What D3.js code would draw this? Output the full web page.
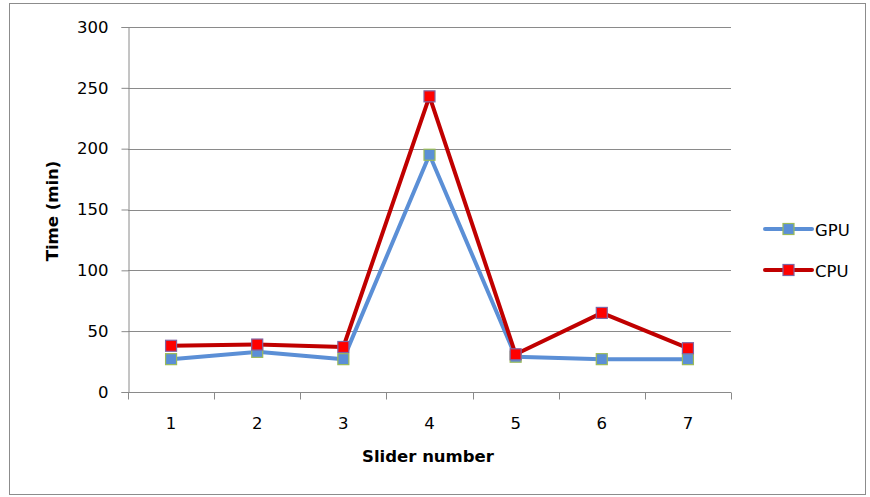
<!DOCTYPE html>
<html>
<head>
<meta charset="utf-8">
<script src="https://cdn.jsdelivr.net/npm/d3@7"></script>
<style>
  html, body { margin: 0; padding: 0; background: #fff; }
  svg { display: block; }
  text { font-family: "DejaVu Sans", Verdana, sans-serif; fill: #000; }
</style>
</head>
<body>
<svg id="chart" width="870" height="497"></svg>
<script>
// Timing data per slider
const sliders = ["1", "2", "3", "4", "5", "6", "7"];
const gpuTimes = [27, 33, 27, 195, 29, 27, 27];
const cpuTimes = [38, 39, 37, 243, 31, 65, 36];
const yTicks = [0, 50, 100, 150, 200, 250, 300];

const series = [
  { name: "GPU", values: gpuTimes, line: "#5B8FD6", fill: "#5B8FD6", edge: "#9BBB59" },
  { name: "CPU", values: cpuTimes, line: "#C00000", fill: "#FF0000", edge: "#8064A2" }
];

const FONT = "'DejaVu Sans', Verdana, sans-serif";
const svg = d3.select("#chart");
const plot = { left: 128, right: 731, top: 27, bottom: 392 };

// Outer chart frame
svg.append("rect")
  .attr("x", 9.5).attr("y", 3.5)
  .attr("width", 856).attr("height", 491)
  .attr("fill", "#fff").attr("stroke", "#8c8c8c").attr("stroke-width", 1);

const x = d3.scaleBand().domain(sliders).range([plot.left, plot.right]);
const y = d3.scaleLinear().domain([0, 300]).range([plot.bottom, plot.top]);

// Horizontal gridlines
svg.append("g")
  .selectAll("line")
  .data(yTicks.filter(t => t > 0))
  .join("line")
  .attr("x1", plot.left).attr("x2", plot.right)
  .attr("y1", d => Math.round(y(d)) + 0.5).attr("y2", d => Math.round(y(d)) + 0.5)
  .attr("stroke", "#8a8a8a").attr("stroke-width", 1);

// Y axis
const yAxis = svg.append("g")
  .attr("transform", `translate(${plot.left + 0.5},0)`)
  .call(d3.axisLeft(y).tickValues(yTicks).tickSize(7).tickPadding(13));
yAxis.select(".domain").attr("stroke", "#8a8a8a");
yAxis.selectAll(".tick line").attr("stroke", "#8a8a8a");
yAxis.selectAll(".tick text")
  .attr("font-size", 16.5).attr("font-family", FONT).attr("fill", "#000");

// X axis with ticks between categories
const xAxisG = svg.append("g").attr("transform", `translate(0,${plot.bottom + 0.5})`);
xAxisG.append("line")
  .attr("x1", plot.left).attr("x2", plot.right)
  .attr("stroke", "#8a8a8a");
const bounds = sliders.map(s => x(s)).concat([plot.right]);
xAxisG.selectAll(".xtick")
  .data(bounds)
  .join("line")
  .attr("class", "xtick")
  .attr("x1", d => Math.round(d) + 0.5).attr("x2", d => Math.round(d) + 0.5)
  .attr("y1", 0).attr("y2", 7)
  .attr("stroke", "#8a8a8a");
xAxisG.selectAll(".xlabel")
  .data(sliders)
  .join("text")
  .attr("class", "xlabel")
  .attr("x", d => x(d) + x.bandwidth() / 2)
  .attr("y", 36.5)
  .attr("text-anchor", "middle")
  .attr("font-size", 16.5)
  .text(d => d);

// Axis titles
svg.append("text")
  .attr("x", 428).attr("y", 462)
  .attr("text-anchor", "middle")
  .attr("font-size", 16.5).attr("font-weight", "bold")
  .text("Slider number");
svg.append("text")
  .attr("transform", "translate(58,211) rotate(-90)")
  .attr("text-anchor", "middle")
  .attr("font-size", 16.5).attr("font-weight", "bold")
  .text("Time (min)");

// Series lines and markers
const lineGen = d3.line()
  .x((d, i) => x(sliders[i]) + x.bandwidth() / 2)
  .y(d => y(d));

const ms = 11;
series.forEach(s => {
  const g = svg.append("g");
  g.append("path")
    .datum(s.values)
    .attr("d", lineGen)
    .attr("fill", "none")
    .attr("stroke", s.line)
    .attr("stroke-width", 4)
    .attr("stroke-linejoin", "round");
  g.selectAll("rect")
    .data(s.values)
    .join("rect")
    .attr("x", (d, i) => x(sliders[i]) + x.bandwidth() / 2 - ms / 2)
    .attr("y", d => y(d) - ms / 2)
    .attr("width", ms).attr("height", ms)
    .attr("fill", s.fill)
    .attr("stroke", s.edge)
    .attr("stroke-width", 1.2);
});

// Legend
const legend = svg.append("g").attr("transform", "translate(765,0)");
const legendY = [229, 270];
series.forEach((s, i) => {
  const ly = legendY[i];
  legend.append("line")
    .attr("x1", 0).attr("x2", 47)
    .attr("y1", ly).attr("y2", ly)
    .attr("stroke", s.line).attr("stroke-width", 4)
    .attr("stroke-linecap", "round");
  legend.append("rect")
    .attr("x", 23.5 - ms / 2).attr("y", ly - ms / 2)
    .attr("width", ms).attr("height", ms)
    .attr("fill", s.fill).attr("stroke", s.edge).attr("stroke-width", 1.2);
  legend.append("text")
    .attr("x", 50).attr("y", ly + 6.5)
    .attr("font-size", 16.5)
    .text(s.name);
});
</script>
</body>
</html>
